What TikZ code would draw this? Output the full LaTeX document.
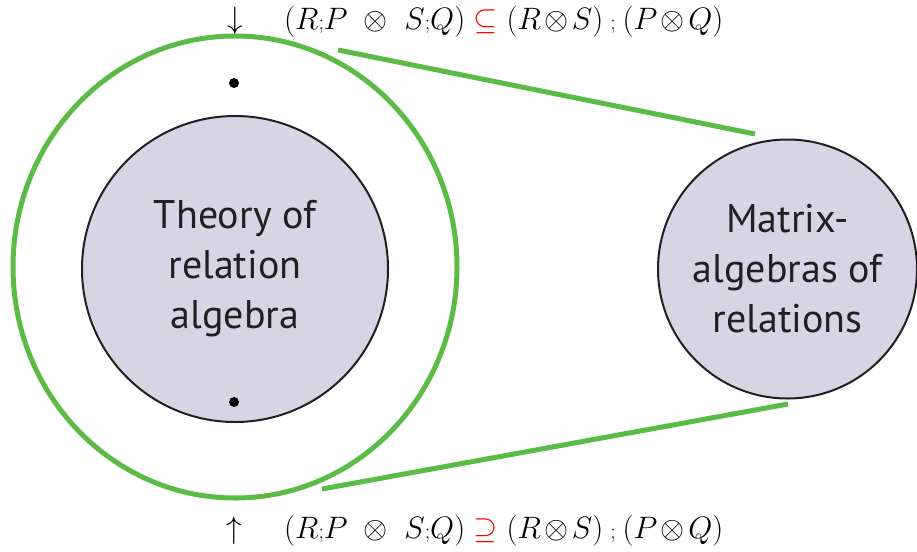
\RequirePackage{fix-cm}
\documentclass[tikz,border=0pt]{standalone}
\usepackage{fontspec}
\setsansfont{PT Sans}
\usetikzlibrary{shapes.geometric}

\definecolor{ringgreen}{RGB}{92,186,71}
\definecolor{discfill}{RGB}{215,213,227}
\definecolor{inkgrey}{RGB}{35,31,32}

\begin{document}
\begin{tikzpicture}[
  x=1pt, y=-1pt,
  disc/.style={circle, draw=inkgrey, line width=2pt, fill=discfill,
               inner sep=0pt, align=center, text=inkgrey,
               font=\sffamily\fontsize{40}{50}\selectfont},
  ring/.style={ellipse, draw=ringgreen, line width=5pt, inner sep=0pt},
  zoomline/.style={draw=ringgreen, line width=5pt},
  dot/.style={circle, fill=black, inner sep=0pt, minimum size=10pt},
  law/.style={inner sep=0pt, anchor=base west, font=\fontsize{31}{36}\selectfont},
  tick/.style={inner sep=0pt, anchor=base, font=\fontsize{31}{36}\selectfont},
]
  \useasboundingbox (0,0) rectangle (917,551);

  % the green ring round the theory
  \node[ring, minimum width=444pt, minimum height=462pt] at (235,267) (ring) {};

  % the two discs
  \node[disc, minimum size=306pt] at (235,269) (theory) {Theory of\\relation\\algebra};
  \node[disc, minimum size=259pt] at (787.5,269) (matrix) {Matrix-\\algebras of\\relations};

  % dots on the axis
  \node[dot] at (234,83) (dottop) {};
  \node[dot] at (234,402) (dotbot) {};

  % zoom lines: ends near the ring and near the right disc
  \coordinate (ringne) at (338,50);
  \coordinate (ringse) at (322,489);
  \coordinate (matrixn) at (755,134);
  \coordinate (matrixs) at (788,404);
  \draw[zoomline] (ringne) -- (matrixn);
  \draw[zoomline] (ringse) -- (matrixs);

  % the two inclusions
  \node[tick] at (235,29) (down) {$\downarrow$};
  \node[law] at (284,30) (lawtop) {$(R{\scriptstyle;}P\ \otimes\ S{\scriptstyle;}Q)
    \mathrel{\textcolor{red}{\subseteq}} (R\mkern2mu{\otimes}\mkern2mu S)\mkern4mu{\scriptstyle;}\mkern4mu(P\mkern2mu{\otimes}\mkern2mu Q)$};
  \node[tick] at (234,538) (up) {$\uparrow$};
  \node[law] at (284,538) (lawbot) {$(R{\scriptstyle;}P\ \otimes\ S{\scriptstyle;}Q)
    \mathrel{\textcolor{red}{\supseteq}} (R\mkern2mu{\otimes}\mkern2mu S)\mkern4mu{\scriptstyle;}\mkern4mu(P\mkern2mu{\otimes}\mkern2mu Q)$};
\end{tikzpicture}
\end{document}
